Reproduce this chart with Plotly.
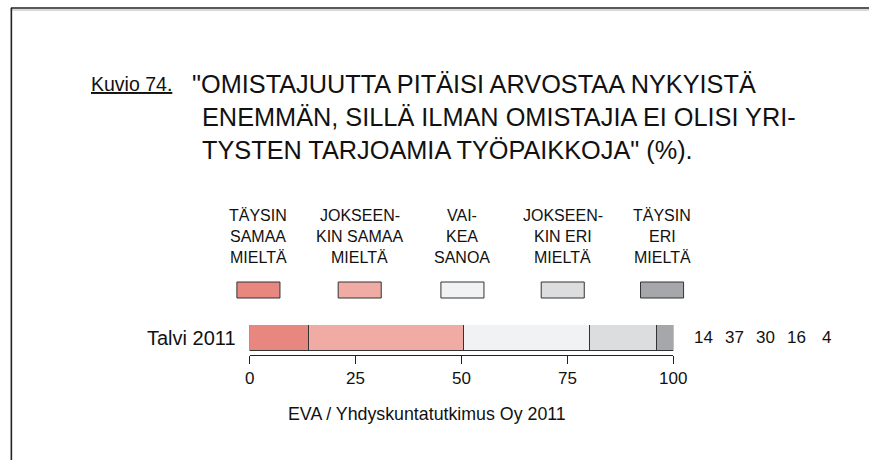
import plotly.graph_objects as go

# Survey answer categories (legend labels, one list entry per printed line)
categories = [
    ["TÄYSIN", "SAMAA", "MIELTÄ"],
    ["JOKSEEN-", "KIN SAMAA", "MIELTÄ"],
    ["VAI-", "KEA", "SANOA"],
    ["JOKSEEN-", "KIN ERI", "MIELTÄ"],
    ["TÄYSIN", "ERI", "MIELTÄ"],
]
row_label = "Talvi 2011"
values = [14, 37, 30, 16, 4]          # percentages per answer category
colors = ["#E8877F", "#F0ACA4", "#F1F2F4", "#DCDDDF", "#A6A7AA"]
tick_values = [0, 25, 50, 75, 100]

title_prefix = "Kuvio 74."
title_lines = [
    '"OMISTAJUUTTA PITÄISI ARVOSTAA NYKYISTÄ',
    "ENEMMÄN, SILLÄ ILMAN OMISTAJIA EI OLISI YRI-",
    'TYSTEN TARJOAMIA TYÖPAIKKOJA" (%).',
]
source = "EVA / Yhdyskuntatutkimus Oy 2011"

W, H = 883, 460
FONT = "Liberation Sans, Arial, sans-serif"


def px(x):
    return x / W


def py(y):
    return 1 - y / H


total = sum(values)
shares = [v / total * 100 for v in values]

fig = go.Figure()
for lab, s, c in zip(categories, shares, colors):
    fig.add_trace(go.Bar(
        x=[s], y=[0], orientation="h", width=1,
        name=" ".join(lab),
        marker=dict(color=c, line=dict(color="#333333", width=1)),
        showlegend=False, hoverinfo="skip",
    ))

annotations = []
shapes = []

# Title block
annotations.append(dict(
    x=px(86), y=py(84), xref="paper", yref="paper", xanchor="left", yanchor="middle",
    text=title_prefix, showarrow=False,
    font=dict(family=FONT, size=19.5, color="#111", lineposition="under"),
))
title_pos = [(189, 84), (199, 117), (199, 150)]
for line, (tx, ty) in zip(title_lines, title_pos):
    annotations.append(dict(
        x=px(tx), y=py(ty), xref="paper", yref="paper", xanchor="left", yanchor="middle",
        text=line, showarrow=False,
        font=dict(family=FONT, size=25.3, color="#111"),
    ))

# Custom legend: text above a swatch per category
legend_cx = [259, 362.5, 467.5, 570, 671.5]
for lab, c, cx in zip(categories, colors, legend_cx):
    for j, part in enumerate(lab):
        annotations.append(dict(
            x=px(cx), y=py(216 + j * 20.5), xref="paper", yref="paper",
            xanchor="center", yanchor="middle", text=part, showarrow=False,
            font=dict(family=FONT, size=16, color="#111"),
        ))
    shapes.append(dict(
        type="rect", xref="paper", yref="paper",
        x0=px(cx - 22), x1=px(cx + 22), y0=py(298), y1=py(282),
        fillcolor=c, line=dict(color="#333333", width=1),
    ))

# Row label and value column
annotations.append(dict(
    x=px(238), y=py(338), xref="paper", yref="paper", xanchor="right", yanchor="middle",
    text=row_label, showarrow=False, font=dict(family=FONT, size=20, color="#111"),
))
for i, v in enumerate(values):
    annotations.append(dict(
        x=px(714 + i * 31.5), y=py(337), xref="paper", yref="paper",
        xanchor="center", yanchor="middle", text=str(v), showarrow=False,
        font=dict(family=FONT, size=17, color="#111"),
    ))

annotations.append(dict(
    x=px(431), y=py(414), xref="paper", yref="paper", xanchor="center", yanchor="middle",
    text=source, showarrow=False, font=dict(family=FONT, size=17.8, color="#111"),
))

# Page frame (top and left rules)
shapes.append(dict(type="line", xref="paper", yref="paper",
                   x0=px(6), x1=1, y0=py(10), y1=py(10),
                   line=dict(color="#CCCCCC", width=1.5)))
shapes.append(dict(type="line", xref="paper", yref="paper",
                   x0=px(6), x1=1, y0=py(8), y1=py(8),
                   line=dict(color="#222222", width=1.6)))
shapes.append(dict(type="line", xref="paper", yref="paper",
                   x0=px(6.5), x1=px(6.5), y0=py(8), y1=0,
                   line=dict(color="#222222", width=1.6)))

bar_top, bar_bottom, axis_y = 325, 351, 355
unit = 1.0 / (bar_bottom - bar_top)
fig.update_layout(
    width=W, height=H, margin=dict(l=0, r=0, t=0, b=0),
    paper_bgcolor="white", plot_bgcolor="white",
    barmode="stack", bargap=0,
    xaxis=dict(
        domain=[px(250), px(683)], range=[0, 100], tickvals=tick_values,
        ticks="outside", ticklen=8, tickcolor="#222", tickwidth=1,
        showline=True, linecolor="#222", linewidth=1,
        showgrid=False, zeroline=False,
        tickfont=dict(family=FONT, size=17, color="#111"),
    ),
    yaxis=dict(
        domain=[py(axis_y), py(bar_top)],
        range=[-0.5 - (axis_y - bar_bottom) * unit, 0.5],
        visible=False, showgrid=False, zeroline=False,
    ),
    annotations=annotations, shapes=shapes,
)

fig.write_html("out.html")
